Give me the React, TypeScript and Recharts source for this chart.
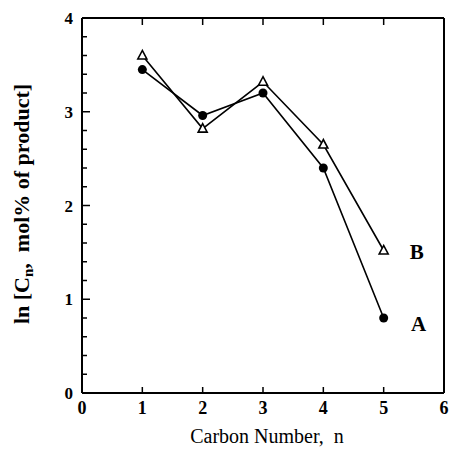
import React from 'react';
import { LineChart, Line, XAxis, YAxis, Label } from 'recharts';

const CARBON = [1, 2, 3, 4, 5];
const SERIES_A = [3.45, 2.96, 3.2, 2.4, 0.8];
const SERIES_B = [3.6, 2.82, 3.32, 2.65, 1.52];
const X_TICKS = [0, 1, 2, 3, 4, 5, 6];
const Y_TICKS = [0, 0.2, 0.4, 0.6, 0.8, 1, 1.2, 1.4, 1.6, 1.8, 2, 2.2, 2.4, 2.6, 2.8, 3, 3.2, 3.4, 3.6, 3.8, 4];
const Y_LABELS = [0, 1, 2, 3, 4];

const data = CARBON.map((n, i) => ({ n, a: SERIES_A[i], b: SERIES_B[i] }));

const FONT = "'Liberation Serif', 'Times New Roman', serif";
const isMajor = (v: number) => Y_LABELS.includes(v);

const BottomTick = (props: any) => {
  const { x, y, payload } = props;
  return (
    <g>
      <line x1={x} y1={y} x2={x} y2={y - 6} stroke="#000" strokeWidth={1.5} />
      <text x={x} y={y + 21} textAnchor="middle" style={{ fontFamily: FONT }} fontWeight="bold" fontSize={18} fill="#000">
        {payload.value}
      </text>
    </g>
  );
};

const TopTick = (props: any) => {
  const { x, y, payload } = props;
  if (payload.value === 0 || payload.value === 6) return <g />;
  return <line x1={x} y1={y} x2={x} y2={y + 7} stroke="#000" strokeWidth={1.5} />;
};

const LeftTick = (props: any) => {
  const { x, y, payload } = props;
  const major = isMajor(payload.value);
  return (
    <g>
      <line x1={x} y1={y} x2={x + (major ? 8 : 5)} y2={y} stroke="#000" strokeWidth={1.5} />
      {major && (
        <text x={x - 9} y={y + 6} textAnchor="end" style={{ fontFamily: FONT }} fontWeight="bold" fontSize={17} fill="#000">
          {payload.value}
        </text>
      )}
    </g>
  );
};

const RightTick = (props: any) => {
  const { x, y, payload } = props;
  const major = isMajor(payload.value);
  return <line x1={x} y1={y} x2={x - (major ? 8 : 5)} y2={y} stroke="#000" strokeWidth={1.5} />;
};

const Circle = (props: any) => {
  const { cx, cy } = props;
  return <circle cx={cx} cy={cy} r={4.5} fill="#000" />;
};

const Triangle = (props: any) => {
  const { cx, cy } = props;
  return (
    <polygon
      points={`${cx},${cy - 5} ${cx - 4.5},${cy + 3.5} ${cx + 4.5},${cy + 3.5}`}
      fill="#fff"
      stroke="#000"
      strokeWidth={1.6}
    />
  );
};

const endLabel = (text: string, dx: number, dy: number) => (props: any) => {
  const { x, y, index } = props;
  if (index !== CARBON.length - 1) return null;
  return (
    <text x={x + dx} y={y + dy} textAnchor="middle" style={{ fontFamily: FONT }} fontWeight="bold" fontSize={21} fill="#000">
      {text}
    </text>
  );
};

export default function App() {
  return (
    <div style={{ position: 'absolute', left: 0, top: 0, width: 453, height: 450, background: '#fff' }}>
      <LineChart width={453} height={450} data={data} margin={{ top: 17, right: 8, bottom: 56, left: 81 }}>
        <XAxis
          xAxisId="bottom"
          dataKey="n"
          type="number"
          domain={[0, 6]}
          ticks={X_TICKS}
          height={1}
          tickSize={0}
          tickMargin={0}
          tick={BottomTick}
          axisLine={{ stroke: '#000', strokeWidth: 2 }}
          tickLine={false}
          interval={0}
        >
          <Label
            content={() => (
              <text x={267} y={443} textAnchor="middle" style={{ fontFamily: FONT }} fontSize={20} fill="#000">
                Carbon Number,{'\u00a0\u00a0'}n
              </text>
            )}
          />
        </XAxis>
        <XAxis
          xAxisId="top"
          orientation="top"
          dataKey="n"
          type="number"
          domain={[0, 6]}
          ticks={X_TICKS}
          height={1}
          tickSize={0}
          tickMargin={0}
          tick={TopTick}
          axisLine={{ stroke: '#000', strokeWidth: 2 }}
          tickLine={false}
          interval={0}
        />
        <YAxis
          yAxisId="left"
          type="number"
          domain={[0, 4]}
          ticks={Y_TICKS}
          width={1}
          tickSize={0}
          tickMargin={0}
          tick={LeftTick}
          axisLine={{ stroke: '#000', strokeWidth: 2 }}
          tickLine={false}
          interval={0}
        >
          <Label
            content={() => (
              <text
                transform="rotate(-90)"
                x={-204}
                y={29}
                textAnchor="middle"
                style={{ fontFamily: FONT }}
                fontWeight="bold"
                fontSize={22}
                fill="#000"
              >
                ln [C<tspan fontSize={15} dy={4}>n</tspan>
                <tspan dy={-4}>,{'\u00a0\u00a0'}mol% of product]</tspan>
              </text>
            )}
          />
        </YAxis>
        <YAxis
          yAxisId="right"
          orientation="right"
          type="number"
          domain={[0, 4]}
          ticks={Y_TICKS}
          width={1}
          tickSize={0}
          tickMargin={0}
          tick={RightTick}
          axisLine={{ stroke: '#000', strokeWidth: 2 }}
          tickLine={false}
          interval={0}
        />
        <Line
          xAxisId="bottom"
          yAxisId="left"
          dataKey="a"
          stroke="#000"
          strokeWidth={1.6}
          dot={Circle}
          activeDot={false}
          label={endLabel('A', 35, 13)}
          isAnimationActive={false}
        />
        <Line
          xAxisId="bottom"
          yAxisId="left"
          dataKey="b"
          stroke="#000"
          strokeWidth={1.6}
          dot={Triangle}
          activeDot={false}
          label={endLabel('B', 33, 8)}
          isAnimationActive={false}
        />
      </LineChart>
    </div>
  );
}
